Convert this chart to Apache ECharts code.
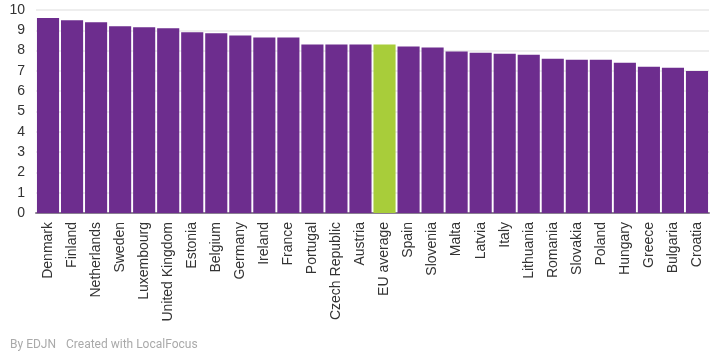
<!DOCTYPE html>
<html><head><meta charset="utf-8">
<script src="https://cdn.jsdelivr.net/npm/echarts@6/dist/echarts.min.js"></script>
<style>html,body{margin:0;padding:0;background:#fff}#c{width:717px;height:357px}</style>
</head><body><div id="c"></div>
<script>
const categories = ["Denmark","Finland","Netherlands","Sweden","Luxembourg","United Kingdom","Estonia","Belgium","Germany","Ireland","France","Portugal","Czech Republic","Austria","EU average","Spain","Slovenia","Malta","Latvia","Italy","Lithuania","Romania","Slovakia","Poland","Hungary","Greece","Bulgaria","Croatia"];
const values = [9.6,9.5,9.4,9.2,9.15,9.1,8.9,8.85,8.75,8.65,8.65,8.3,8.3,8.3,8.3,8.2,8.15,7.95,7.9,7.85,7.8,7.6,7.55,7.55,7.4,7.2,7.15,7.0];
const highlight = "EU average";
const yTicks = [0,1,2,3,4,5,6,7,8,9,10];
const FONT = "'Liberation Sans', Arial, sans-serif";

const chart = echarts.init(document.getElementById('c'), null, {renderer:'canvas'});
chart.setOption({
  animation:false,
  textStyle:{fontFamily:FONT},
  grid:{left:36,right:8,top:10,bottom:144,containLabel:false},
  xAxis:{type:'category',data:categories,
    axisLine:{lineStyle:{color:'#8a7f92',width:2}},
    axisTick:{show:false},
    axisLabel:{rotate:90,interval:0,color:'#333',fontSize:14,margin:9,fontFamily:FONT}},
  yAxis:{type:'value',min:yTicks[0],max:yTicks[yTicks.length-1],interval:1,
    axisLine:{show:false},axisTick:{show:false},
    splitLine:{lineStyle:{color:'#eeeeee',width:2}},
    axisLabel:{color:'#333',fontSize:14,margin:11,fontFamily:FONT}},
  graphic:[
    {type:'text',left:10,top:339,style:{text:'By EDJN',fill:'#aaaaaa',fontSize:12,fontFamily:'Roboto'}},
    {type:'text',left:66,top:339,style:{text:'Created with LocalFocus',fill:'#aaaaaa',fontSize:12,fontFamily:'Roboto'}}
  ],
  series:[{type:'bar',barCategoryGap:'8%',
    data:values.map((v,i)=>({value:v,itemStyle:{color:categories[i]===highlight?'#a8cd3a':'#6d2d8e'}}))}]
});
</script></body></html>
